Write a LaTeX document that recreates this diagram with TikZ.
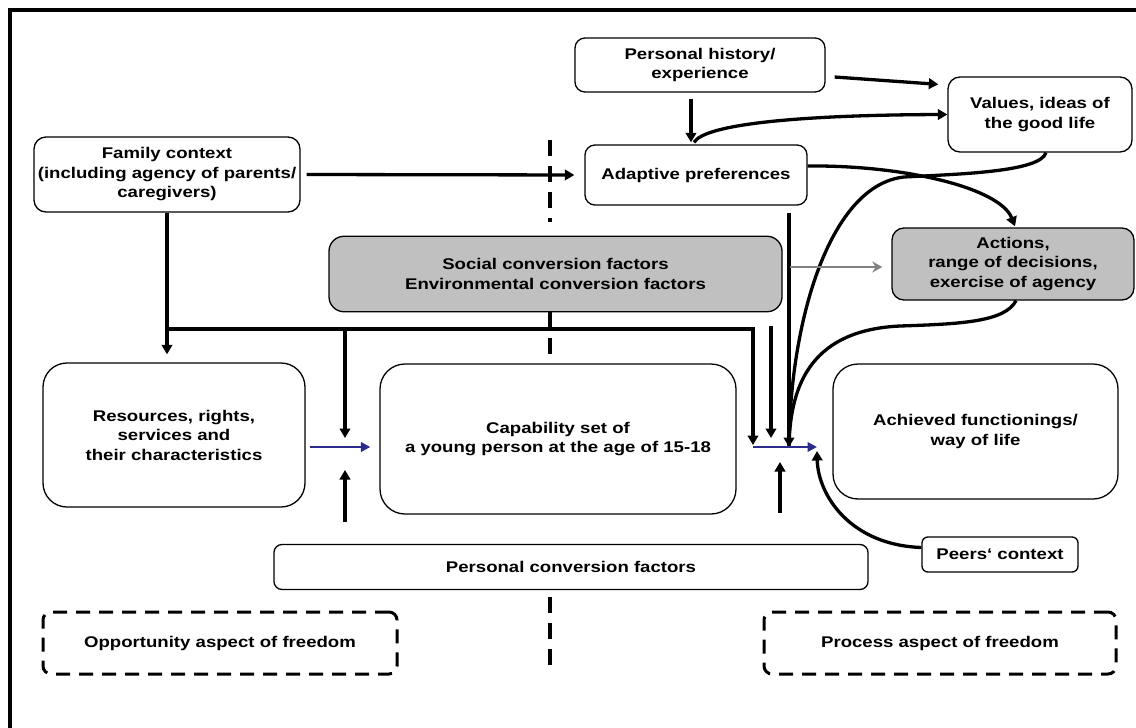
\documentclass[tikz,border=0pt]{standalone}
\usepackage{fontspec}
\setmainfont{Liberation Sans}[FakeStretch=1.2]
\usetikzlibrary{arrows.meta}
\definecolor{boxgray}{RGB}{192,192,192}
\definecolor{navyarrow}{RGB}{44,44,140}
\definecolor{grayarrow}{RGB}{130,130,130}
\newcommand\labfont{\fontsize{15.5pt}{19.5pt}\selectfont\bfseries}
\begin{document}
\begin{tikzpicture}[x=1pt,y=-1pt,
  box/.style={draw=black, line width=1.3pt, rounded corners=#1, align=center, inner sep=0pt, font=\labfont},
  box/.default=10pt,
  grbox/.style={box=#1, fill=boxgray},
  grbox/.default=14pt,
  dashbox/.style={draw=black, line width=3pt, dash pattern=on 14pt off 9pt, rounded corners=8pt, align=center, inner sep=0pt, font=\labfont},
  arr/.style={line width=3.3pt, -{Triangle[length=9.5pt,width=10.5pt]}},
  plainline/.style={line width=3.3pt},
  bluearr/.style={draw=navyarrow, line width=2.8pt, -{Triangle[length=9.5pt,width=9.5pt]}},
  grayarr/.style={draw=grayarrow, line width=2.3pt, -{Stealth[length=10pt,width=11pt]}},
  divider/.style={line width=3.6pt, dash pattern=on 16pt off 10pt}]
\useasboundingbox (0,0) rectangle (1136,728);
% frame
\draw[line width=4pt] (10,730) -- (10,10) -- (1138,10);

% boxes
\node[box=12pt, minimum width=266pt, minimum height=75pt] (family) at (167,174.5) {Family context\\(including agency of parents/\\caregivers)};
\node[box=10pt, minimum width=250pt, minimum height=54pt] (ph) at (700,65) {Personal history/\\experience};
\node[box=12pt, minimum width=184pt, minimum height=75pt] (values) at (1040,114.5) {Values, ideas of\\the good life};
\node[box=10pt, minimum width=222pt, minimum height=60pt] (adapt) at (696,175) {Adaptive preferences};
\node[grbox=15pt, minimum width=453pt, minimum height=75.5pt] (social) at (555.5,274) {Social conversion factors\\Environmental conversion factors};
\node[grbox=12pt, minimum width=242pt, minimum height=72pt] (actions) at (1013,264) {Actions,\\range of decisions,\\exercise of agency};
\node[box=24pt, minimum width=262pt, minimum height=144pt] (resources) at (174,435) {Resources, rights,\\services and\\their characteristics};
\node[box=25pt, minimum width=356pt, minimum height=150pt] (capab) at (558,439) {Capability set of\\a young person at the age of 15-18};
\node[box=25pt, minimum width=285pt, minimum height=135pt] (achieved) at (975.5,431.5) {Achieved functionings/\\way of life};
\node[box=8pt, minimum width=594pt, minimum height=45pt] (personal) at (571,567) {Personal conversion factors};
\node[box=6pt, minimum width=156pt, minimum height=35pt] (peers) at (1000,554.5) {Peers‘ context};
\node[dashbox, minimum width=354pt, minimum height=62pt] (opp) at (220,643) {Opportunity aspect of freedom};
\node[dashbox, minimum width=352pt, minimum height=62pt] (proc) at (940,643) {Process aspect of freedom};

% dashed divider
\draw[divider] (550,140) -- (550,222);
\draw[divider] (550,312) -- (550,356);
\draw[divider] (550,597) -- (550,672);

% helper coordinates
\coordinate (conv) at (789,447);
\coordinate (c1) at (753,447);
\coordinate (c2) at (817,447);
\coordinate (jl) at (167,329);
\coordinate (m1) at (345,447);
\coordinate (u1) at (345,522);
\coordinate (v2top) at (771,326);
\coordinate (v2bot) at (771,438);
\coordinate (u2top) at (780,462);
\coordinate (u2bot) at (780,513);
\coordinate (adaptbot) at ([yshift=-7pt]adapt.south);
\coordinate (phd) at ([xshift=-9pt]ph.south);

% top connectors
\draw[arr, shorten <=6pt, shorten >=10pt] (family.east) -- (adapt.west);
\draw[arr, shorten <=6pt, shorten >=2pt] (phd) -- (phd |- adapt.north);
\draw[arr] ([shift={(9,12)}]ph.east) -- ([shift={(-9,8)}]values.north west);
\draw[arr] ([shift={(-2,-2)}]adapt.north) .. controls (705,124) and (800,115) .. (values.west);
\draw[arr] ([shift={(0,-9)}]adapt.east) .. controls (905,165) and (1000,188) .. ([shift={(2,-1)}]actions.north);

% curves to convergence
\draw[plainline] ([xshift=6pt]values.south) .. controls (1040,172) and (960,174) .. (904,177) .. controls (830,185) and (790,320) .. (conv);
\draw[plainline] ([xshift=3pt]actions.south) .. controls (1005,322) and (960,324) .. (900,326) .. controls (815,330) and (790,380) .. (conv);
\draw[arr] (adaptbot -| conv) -- (conv);

% gray arrow
\draw[grayarr, shorten <=7pt, shorten >=9pt] ([yshift=7pt]social.east) -- ([yshift=7pt]social.east -| actions.west);

% family lines
\draw[arr, shorten >=8pt] (family.south) -- (family.south |- resources.north);
\draw[arr] (jl) -| ([yshift=2pt]c1);
\draw[arr] ([yshift=2pt]m1 |- jl) -- ([yshift=9pt]m1);
\draw[arr] (u1) -- ([yshift=-23pt]m1);
\draw[arr] (v2top) -- (v2bot);
\draw[arr] (u2bot) -- (u2top);

% blue arrows
\draw[bluearr, shorten <=4pt, shorten >=9pt] (resources.east |- m1) -- (capab.west |- m1);
\draw[bluearr] (c1) -- (c2);

% peers
\draw[arr] ([shift={(0,-7)}]peers.west) .. controls (850,545) and (818,495) .. ([shift={(0,4)}]c2);
\end{tikzpicture}
\end{document}
